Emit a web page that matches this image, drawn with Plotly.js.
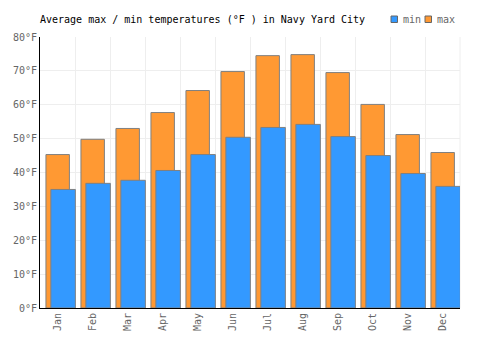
<!DOCTYPE html>
<html><head><meta charset="utf-8">
<script src="https://cdn.plot.ly/plotly-3.0.1.min.js"></script>
<style>body{margin:0;background:#fff}#c{width:500px;height:350px}</style>
</head><body><div id="c"></div>
<script>
var months = ["Jan","Feb","Mar","Apr","May","Jun","Jul","Aug","Sep","Oct","Nov","Dec"];
var maxTemps = [45.3, 49.8, 53.0, 57.7, 64.2, 69.8, 74.5, 74.8, 69.5, 60.1, 51.2, 45.9];
var minTemps = [35.0, 36.8, 37.7, 40.6, 45.3, 50.4, 53.3, 54.2, 50.6, 45.0, 39.7, 35.9];
var seriesNames = ["min", "max"];
var seriesColors = ["#3399FF", "#FF9933"];
var font = "DejaVu Sans Mono, monospace";
var traces = [
  {type:"bar", name:"max", x:months, y:maxTemps, offset:-0.33, width:0.67,
   marker:{color:"#FF9933", line:{color:"#808080", width:1}}, hoverinfo:"none"},
  {type:"bar", name:"min", x:months, y:minTemps, offset:-0.19, width:0.70,
   marker:{color:"#3399FF", line:{color:"#808080", width:1}}, hoverinfo:"none"}
];
// manual legend (pixel -> paper conversion)
var L = 40, T = 37, W = 420, H = 271;
function px(x){ return (x - L) / W; }
function py(y){ return 1 - (y - T) / H; }
var shapes = [], annotations = [];
var legX = [391, 425];
for (var i = 0; i < seriesNames.length; i++) {
  shapes.push({type:"rect", xref:"paper", yref:"paper", x0:px(legX[i]), x1:px(legX[i]+6.5), y0:py(22.5), y1:py(16),
    fillcolor:seriesColors[i], line:{color:"#666", width:1}});
  annotations.push({xref:"paper", yref:"paper", x:px(legX[i]+9.5), y:py(19.5), xanchor:"left", yanchor:"middle",
    text:seriesNames[i], showarrow:false, font:{family:font, size:10, color:"#666"}});
}
shapes.push({type:"line", xref:"paper", yref:"paper", x0:1, x1:1, y0:0, y1:1, line:{color:"#eeeeee", width:1}, layer:"below"});
var layout = {
  width:500, height:350, barmode:"overlay",
  margin:{l:L, r:500-L-W, t:T, b:350-T-H, autoexpand:false},
  paper_bgcolor:"#fff", plot_bgcolor:"#fff",
  font:{family:font, size:10, color:"#666"},
  title:{text:"Average max / min temperatures (°F ) in Navy Yard City", x:40/500, xanchor:"left", y:1-19.5/350, yanchor:"middle", font:{family:font, size:10, color:"#000"}},
  showlegend:false,
  xaxis:{type:"category", tickson:"boundaries", showgrid:true, gridcolor:"#eeeeee", gridwidth:1,
    tickangle:-90, showline:true, linecolor:"#000", linewidth:1, ticks:"", range:[-0.5,11.5],
    tickfont:{family:font, size:10, color:"#666"}, zeroline:false, fixedrange:true, automargin:false},
  yaxis:{range:[0,80], dtick:10, ticksuffix:"°F", showgrid:true, gridcolor:"#eeeeee", gridwidth:1,
    showline:true, linecolor:"#000", linewidth:1, zeroline:false, ticks:"",
    tickfont:{family:font, size:10, color:"#666"}, fixedrange:true, automargin:false},
  shapes:shapes, annotations:annotations
};
Plotly.newPlot("c", traces, layout, {displayModeBar:false, staticPlot:true});
</script></body></html>
